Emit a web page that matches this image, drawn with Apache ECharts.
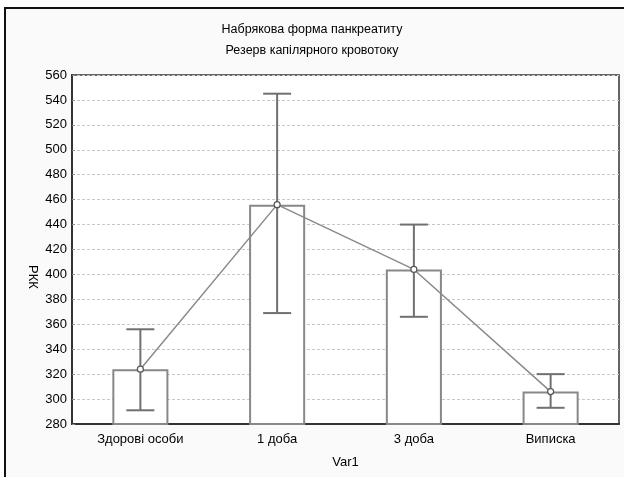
<!DOCTYPE html>
<html>
<head>
<meta charset="utf-8">
<script src="https://cdn.jsdelivr.net/npm/echarts@6/dist/echarts.min.js"></script>
<style>
  html, body { margin: 0; padding: 0; background: #ffffff; }
  #chart { width: 624px; height: 477px; }
</style>
</head>
<body>
<div id="chart"></div>
<script>
// Group names along the horizontal axis
const categories = ['Здорові особи', '1 доба', '3 доба', 'Виписка'];
// Mean values of РКК per group
const means = [324, 456, 404, 306];
// Upper and lower whisker ends
const upper = [356, 545, 440, 320];
const lower = [291, 369, 366, 293];

const FONT = '"Liberation Sans", Arial, sans-serif';

const chart = echarts.init(document.getElementById('chart'), null, { renderer: 'canvas' });

const errorData = categories.map((c, i) => [i, lower[i], upper[i]]);

chart.setOption({
  backgroundColor: '#ffffff',
  animation: false,
  title: {
    text: 'Набрякова форма панкреатиту\nРезерв капілярного кровотоку',
    left: 'center',
    top: 14,
    textStyle: { fontFamily: FONT, fontSize: 12.5, fontWeight: 'normal', color: '#000', lineHeight: 21 }
  },
  graphic: [
    {
      type: 'rect',
      z: -100,
      shape: { x: 5, y: 8, width: 640, height: 500 },
      style: { fill: '#fafafa', stroke: '#111', lineWidth: 2 }
    },
    {
      type: 'text',
      x: 33, y: 277,
      rotation: -Math.PI / 2,
      style: { text: 'РКК', fontFamily: FONT, fontSize: 13, fill: '#000', align: 'center', verticalAlign: 'middle' }
    }
  ],
  grid: {
    left: 72, right: 5, top: 75, bottom: 53,
    show: true, backgroundColor: '#ffffff', borderColor: '#333', borderWidth: 1.5
  },
  xAxis: {
    type: 'category',
    data: categories,
    boundaryGap: true,
    name: 'Var1',
    nameLocation: 'middle',
    nameGap: 32,
    nameTextStyle: { fontFamily: FONT, fontSize: 13, color: '#000' },
    axisLine: { lineStyle: { color: '#333', width: 2 } },
    axisTick: { show: true, alignWithLabel: true, inside: true, length: 3, lineStyle: { color: '#777' } },
    axisLabel: { fontFamily: FONT, fontSize: 13, color: '#000', margin: 9 },
    splitLine: { show: false }
  },
  yAxis: {
    type: 'value',
    min: 280, max: 560, interval: 20,
    axisLine: { show: true, lineStyle: { color: '#333', width: 2 } },
    axisTick: { show: true, inside: true, length: 3, lineStyle: { color: '#888' } },
    axisLabel: { fontFamily: FONT, fontSize: 13, color: '#000', margin: 5 },
    splitLine: { show: true, lineStyle: { color: '#c8c8c8', type: [3, 2], width: 1 } }
  },
  series: [
    {
      type: 'bar',
      data: means,
      barWidth: '41%',
      itemStyle: { color: '#ffffff', borderColor: '#888888', borderWidth: 2 },
      z: 2
    },
    {
      type: 'custom',
      data: errorData,
      z: 3,
      renderItem: function (params, api) {
        const x = api.value(0);
        const lo = api.coord([x, api.value(1)]);
        const hi = api.coord([x, api.value(2)]);
        const half = 14;
        const style = { stroke: '#707070', lineWidth: 2 };
        return {
          type: 'group',
          children: [
            { type: 'line', shape: { x1: hi[0], y1: hi[1], x2: lo[0], y2: lo[1] }, style: style },
            { type: 'line', shape: { x1: hi[0] - half, y1: hi[1], x2: hi[0] + half, y2: hi[1] }, style: style },
            { type: 'line', shape: { x1: lo[0] - half, y1: lo[1], x2: lo[0] + half, y2: lo[1] }, style: style }
          ]
        };
      }
    },
    {
      type: 'line',
      data: means,
      z: 4,
      symbol: 'circle',
      symbolSize: 6,
      lineStyle: { color: '#8a8a8a', width: 1.5 },
      itemStyle: { color: '#ffffff', borderColor: '#555', borderWidth: 1.2 }
    }
  ]
});
</script>
</body>
</html>
